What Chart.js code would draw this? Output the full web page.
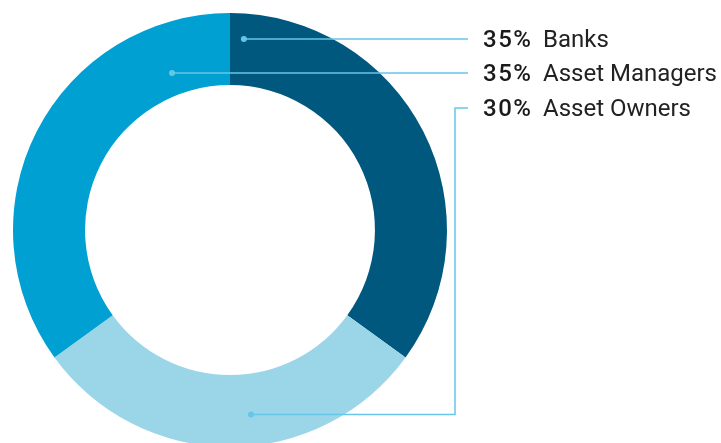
<!DOCTYPE html>
<html>
<head>
<meta charset="utf-8">
<script src="https://cdn.jsdelivr.net/npm/chart.js@4"></script>
<style>
  html, body { margin: 0; padding: 0; background: #fff; overflow: hidden; }
  #wrap { position: relative; width: 721px; height: 443px; overflow: hidden; }
  #box { position: absolute; left: 0; top: 0; width: 721px; height: 460px; }
</style>
</head>
<body>
<div id="wrap"><div id="box"><canvas id="shareChart"></canvas></div></div>
<script>
// slices, clockwise from 12 o'clock
const categories = ['Banks', 'Asset Owners', 'Asset Managers'];
const shares = [35, 30, 35];
const sliceColors = ['#00587f', '#9bd6e8', '#00a0d3'];

// order the labels are listed on the right
const labelOrder = [0, 2, 1];

// where each leader line starts inside its slice (fraction along the arc, fraction across the ring)
const anchors = [
  { t: 0.033, r: 0.645 },
  { t: 0.44, r: 0.565 },
  { t: 0.839, r: 0.31 }
];

const lineColor = '#66c6e7';
const rowY = [39, 73, 108];
const lineEndX = 468;
const elbowX = 455;
const numberX = 483;
const nameX = 543;

function anchorPoint(arc, a) {
  const p = arc.getProps(['x', 'y', 'startAngle', 'endAngle', 'innerRadius', 'outerRadius'], true);
  const ang = p.startAngle + a.t * (p.endAngle - p.startAngle);
  const rad = p.innerRadius + a.r * (p.outerRadius - p.innerRadius);
  return { x: p.x + Math.cos(ang) * rad, y: p.y + Math.sin(ang) * rad };
}

const leaderLabels = {
  id: 'leaderLabels',
  afterDraw(chart) {
    const ctx = chart.ctx;
    const arcs = chart.getDatasetMeta(0).data;
    ctx.save();
    labelOrder.forEach((idx, row) => {
      const dot = anchorPoint(arcs[idx], anchors[idx]);
      const y = rowY[row];

      ctx.strokeStyle = lineColor;
      ctx.lineWidth = 1.5;
      ctx.beginPath();
      ctx.moveTo(dot.x, dot.y);
      if (Math.abs(dot.y - y) < 3) {
        ctx.lineTo(lineEndX, dot.y);
      } else {
        ctx.lineTo(elbowX, dot.y);
        ctx.lineTo(elbowX, y);
        ctx.lineTo(lineEndX, y);
      }
      ctx.stroke();

      ctx.fillStyle = lineColor;
      ctx.beginPath();
      ctx.arc(dot.x, dot.y, 3, 0, Math.PI * 2);
      ctx.fill();

      ctx.textBaseline = 'alphabetic';
      ctx.textAlign = 'left';
      ctx.fillStyle = '#1a1a1a';
      ctx.font = '500 24px Roboto, "Liberation Sans", sans-serif';
      ctx.letterSpacing = '1.5px';
      ctx.fillText(shares[idx] + '%', numberX, y + 8);
      ctx.letterSpacing = '0px';
      ctx.fillStyle = '#222';
      ctx.font = '400 24px Roboto, "Liberation Sans", sans-serif';
      ctx.fillText(categories[idx], nameX, y + 8);
    });
    ctx.restore();
  }
};

new Chart(document.getElementById('shareChart').getContext('2d'), {
  type: 'doughnut',
  data: {
    labels: categories,
    datasets: [{
      data: shares,
      backgroundColor: sliceColors,
      borderWidth: 0
    }]
  },
  options: {
    responsive: true,
    maintainAspectRatio: false,
    animation: false,
    cutout: '66.8%',
    layout: { padding: { left: 13, top: 13, right: 274, bottom: 13 } },
    plugins: {
      legend: { display: false },
      tooltip: { enabled: false }
    }
  },
  plugins: [leaderLabels]
});
</script>
</body>
</html>
